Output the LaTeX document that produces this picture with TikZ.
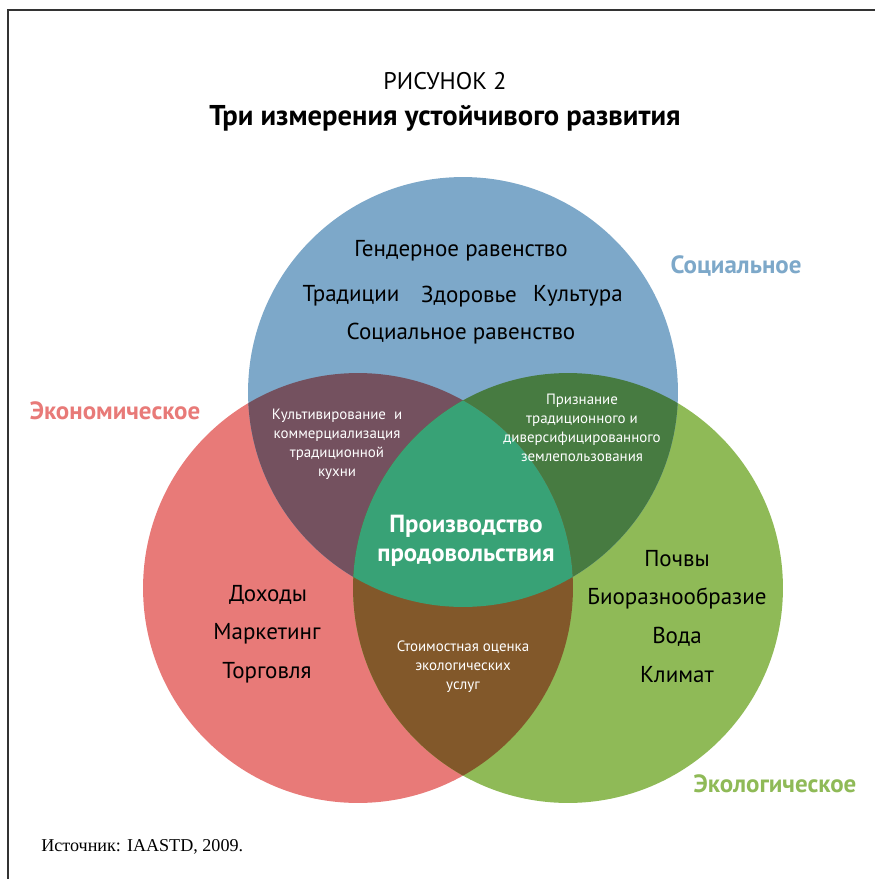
\documentclass[tikz,border=0pt]{standalone}
\usepackage{fontspec}
\setmainfont{PT Sans}
\newfontfamily\srcfont{Liberation Serif}

\definecolor{soc}{HTML}{7DA8C9}
\definecolor{eco}{HTML}{E87A78}
\definecolor{env}{HTML}{8FBA57}
\definecolor{soceco}{HTML}{74515F}
\definecolor{socenv}{HTML}{477B41}
\definecolor{ecoenv}{HTML}{82582A}
\definecolor{core}{HTML}{38A276}

\begin{document}
\begin{tikzpicture}[
    x=0.02cm, y=-0.02cm,
    item/.style={font=\fontsize{13.1}{15}\selectfont, inner sep=0pt},
    overlap/.style={font=\fontsize{8.5}{10.8}\selectfont, text=white, align=center, inner sep=0pt},
    sphere/.style={font=\fontsize{14.2}{16}\selectfont\bfseries, text=#1, inner sep=0pt},
  ]
    \useasboundingbox (0, 0) rectangle (875, 879);

    % Рамка
    \draw[line width=0.6pt, black!80] (8, 879) -- (8, 10) -- (875, 10);

    % Заголовок
    \node[font=\fontsize{13.7}{16}\selectfont, inner sep=0pt] (fig) at (445, 81) {РИСУНОК 2};
    \node[font=\fontsize{16.3}{18}\selectfont\bfseries, inner sep=0pt] (title) at (445, 118) {Три измерения устойчивого развития};

    % Центры кругов
    \coordinate (cs) at (463, 392);
    \coordinate (ce) at (358, 588);
    \coordinate (cg) at (568, 588);

    % Круги
    \fill[eco] (ce) circle[radius=4.3cm];
    \fill[env] (cg) circle[radius=4.3cm];
    \fill[soc] (cs) circle[radius=4.3cm];

    % Попарные пересечения
    \begin{scope}
      \clip (cs) circle[radius=4.3cm];
      \fill[soceco] (ce) circle[radius=4.3cm];
      \fill[socenv] (cg) circle[radius=4.3cm];
    \end{scope}
    \begin{scope}
      \clip (ce) circle[radius=4.3cm];
      \fill[ecoenv] (cg) circle[radius=4.3cm];
    \end{scope}

    % Общая часть
    \begin{scope}
      \clip (cs) circle[radius=4.3cm];
      \clip (ce) circle[radius=4.3cm];
      \fill[core] (cg) circle[radius=4.3cm];
    \end{scope}

    % Социальное
    \node[item] (gend) at (461, 251) {Гендерное равенство};
    \node[item] (trad) at (351, 296) {Традиции};
    \node[item] (health) at (469, 297) {Здоровье};
    \node[item] (cult) at (578, 296) {Культура};
    \node[item] (soceq) at (461, 334) {Социальное равенство};
    \node[sphere=soc] (socl) at (736, 266) {Социальное};

    % Экономическое
    \node[item] (income) at (268, 595) {Доходы};
    \node[item] (market) at (267, 634) {Маркетинг};
    \node[item] (trade) at (267, 673) {Торговля};
    \node[sphere=eco] (ecol) at (115, 411) {Экономическое};

    % Экологическое
    \node[item] (soil) at (677, 559) {Почвы};
    \node[item] (bio) at (677, 598) {Биоразнообразие};
    \node[item] (water) at (677, 637) {Вода};
    \node[item] (clim) at (677, 675) {Климат};
    \node[sphere=env] (envl) at (775, 784) {Экологическое};

    % Пересечения
    \node[overlap] (kitchen) at (337, 444) {Культивирование\ \ и\\коммерциализация\\традиционной\\кухни};
    \node[overlap] (land) at (582, 428) {Признание\\традиционного и\\диверсифицированного\\землепользования};
    \node[overlap] (value) at (463, 667) {Стоимостная оценка\\экологических\\услуг};
    \node[font=\fontsize{14.1}{16.5}\selectfont\bfseries, text=white, align=center, inner sep=0pt] (food) at (466, 541) {Производство\\продовольствия};

    % Источник
    \node[font=\srcfont\fontsize{10.3}{12}\selectfont, anchor=west, inner sep=0pt] (src) at (41, 847) {Источник: IAASTD, 2009.};
  \end{tikzpicture}
\end{document}
